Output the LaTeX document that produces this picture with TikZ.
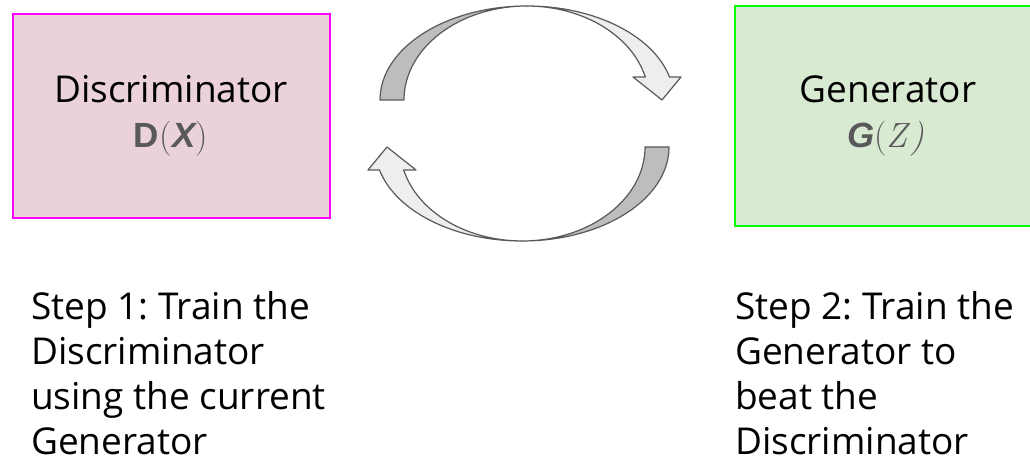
\documentclass[tikz,border=0pt]{standalone}
\usepackage{fontspec}
\setmainfont{Open Sans}
\newfontfamily\formulafont{Liberation Sans}
\newfontfamily\parenfont{Latin Modern Roman}
\frenchspacing

\definecolor{discfill}{HTML}{EAD1DC}
\definecolor{discline}{HTML}{FF00FF}
\definecolor{genfill}{HTML}{D9EAD3}
\definecolor{genline}{HTML}{00FF00}
\definecolor{backshade}{HTML}{BDBDBD}
\definecolor{frontshade}{HTML}{EEEEEE}
\definecolor{arrowline}{HTML}{595959}
\definecolor{formulagray}{HTML}{595959}

\tikzset{
  box/.style={draw, line width=1.5pt, inner sep=0pt},
  title/.style={font=\fontsize{37}{45}\selectfont, text=black, inner sep=0pt},
  formula/.style={font=\fontsize{35}{45}\selectfont, text=formulagray, inner sep=0pt},
  steptext/.style={font=\fontsize{37}{45}\selectfont, text=black, align=left, inner sep=0pt},
  ribbon/.style={draw=arrowline, line width=1.2pt, line join=round},
  cyclearrow/.pic={
    % dark back face of the curved ribbon
    \filldraw[ribbon, fill=backshade]
      (-147,0) arc[start angle=180, end angle=90, x radius=147, y radius=94]
      arc[start angle=90, end angle=180, x radius=123, y radius=94] -- cycle;
    % light front face ending in the arrow head
    \filldraw[ribbon, fill=frontshade]
      (0,94) arc[start angle=90, end angle=14.2, x radius=147, y radius=94]
      -- (154,23) -- (135,0) -- (106,23) -- (118.3,23)
      arc[start angle=14.2, end angle=90, x radius=122, y radius=94] -- cycle;
  }
}

\begin{document}
\begin{tikzpicture}[x=1pt, y=1pt]
\useasboundingbox (0,0) rectangle (1030,457);
\begin{scope}
\clip (0,0) rectangle (1030,457);

% the two networks
\node[box, fill=discfill, draw=discline, minimum width=317pt, minimum height=204pt] (disc) at (171.5,341) {};
\node[box, fill=genfill, draw=genline, minimum width=306pt, minimum height=220pt] (gen) at (888,341) {};

\node[title, anchor=base] (disctitle) at (171,354) {Discriminator};
\node[formula, anchor=base] (discformula) at (171,309)
  {{\formulafont\bfseries D}{\parenfont(}\kern1pt{\formulafont\bfseries\itshape X}{\parenfont)}};

\node[title, anchor=base] (gentitle) at (888,354) {Generator};
\node[formula, anchor=base] (genformula) at (886,309)
  {{\formulafont\bfseries\itshape G}{\parenfont(\itshape Z\/)}};

% alternating training loop
\pic at (527,357) {cyclearrow};
\pic[rotate=180] at (522,310) {cyclearrow};

% step descriptions (anchored at the baseline of their last line)
\node[steptext, anchor=base west] (step1) at (31,2)
  {Step 1: Train the\\Discriminator\\using the current\\Generator};
\node[steptext, anchor=base west] (step2) at (735,2)
  {Step 2: Train the\\Generator to\\beat the\\Discriminator};
\end{scope}
\end{tikzpicture}
\end{document}
